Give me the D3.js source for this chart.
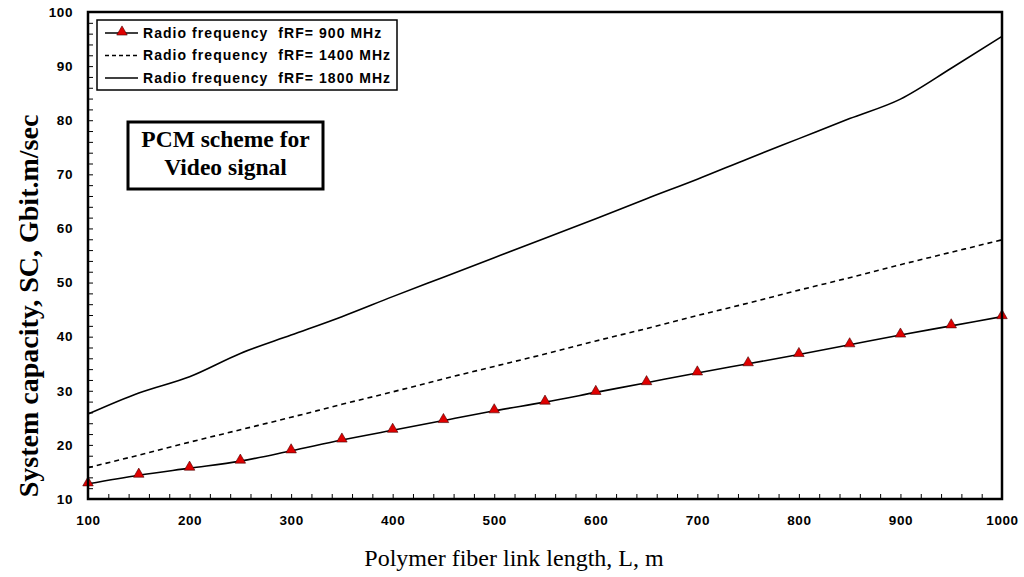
<!DOCTYPE html>
<html>
<head>
<meta charset="utf-8">
<script src="https://cdn.jsdelivr.net/npm/d3@7"></script>
<style>
  body { margin: 0; background: #fff; }
  svg { display: block; }
</style>
</head>
<body>
<div id="chart"></div>
<script>
// link length, m
const lengths = [100, 150, 200, 250, 300, 350, 400, 450, 500, 550, 600, 650, 700, 750, 800, 850, 900, 950, 1000];
// system capacity, Gbit.m/sec
const sc900 = [12.8, 14.4, 15.7, 17.0, 18.9, 20.9, 22.7, 24.5, 26.3, 27.9, 29.7, 31.5, 33.3, 35.0, 36.7, 38.5, 40.3, 42.0, 43.7];
const sc1400 = [15.8, 18.1, 20.5, 22.8, 25.1, 27.5, 29.8, 32.2, 34.5, 36.8, 39.2, 41.5, 43.9, 46.2, 48.6, 50.9, 53.3, 55.6, 57.9];
const sc1800 = [25.7, 29.6, 32.6, 36.9, 40.3, 43.7, 47.4, 51.0, 54.6, 58.2, 61.8, 65.5, 69.1, 72.9, 76.6, 80.3, 83.9, 89.6, 95.5];
const legendLabels = ['Radio frequency  fRF= 900 MHz', 'Radio frequency  fRF= 1400 MHz', 'Radio frequency  fRF= 1800 MHz'];
const xTicks = [100, 200, 300, 400, 500, 600, 700, 800, 900, 1000];
const yTicks = [10, 20, 30, 40, 50, 60, 70, 80, 90, 100];

const width = 1024, height = 577;
const margin = {top: 12, right: 22, bottom: 78, left: 88};
const sans = "'Liberation Sans', Arial, sans-serif";
const serif = "'Liberation Serif', 'Times New Roman', serif";

const x = d3.scaleLinear().domain([100, 1000]).range([margin.left, width - margin.right]);
const y = d3.scaleLinear().domain([10, 100]).range([height - margin.bottom, margin.top]);

const svg = d3.select('#chart').append('svg')
    .attr('width', width).attr('height', height);

// minor ticks pointing inward
svg.append('g')
    .attr('transform', `translate(0,${y(10)})`)
    .call(d3.axisTop(x).tickValues(d3.range(100, 1001, 20)).tickSize(5).tickFormat(''))
    .call(g => g.select('.domain').remove())
    .call(g => g.selectAll('line').attr('stroke', '#000').attr('stroke-width', 1));
svg.append('g')
    .attr('transform', `translate(${x(100)},0)`)
    .call(d3.axisRight(y).tickValues(d3.range(10, 101, 2)).tickSize(5).tickFormat(''))
    .call(g => g.select('.domain').remove())
    .call(g => g.selectAll('line').attr('stroke', '#000').attr('stroke-width', 1));

// tick labels
const styleTicks = g => g.selectAll('text')
    .attr('font-family', sans).attr('font-weight', 'bold')
    .attr('font-size', 13.5).attr('letter-spacing', 0.6).attr('fill', '#000');
svg.append('g')
    .attr('transform', `translate(0,${y(10)})`)
    .call(d3.axisBottom(x).tickValues(xTicks).tickFormat(d3.format('d')).tickSize(0).tickPadding(16))
    .call(g => g.select('.domain').remove())
    .call(styleTicks);
svg.append('g')
    .attr('transform', `translate(${x(100)},0)`)
    .call(d3.axisLeft(y).tickValues(yTicks).tickSize(0).tickPadding(15))
    .call(g => g.select('.domain').remove())
    .call(styleTicks);

const line = arr => d3.line()
    .x((d, i) => x(lengths[i]))
    .y(d => y(d))
    .curve(d3.curveMonotoneX)(arr);

svg.append('path').attr('d', line(sc1800))
    .attr('fill', 'none').attr('stroke', '#000').attr('stroke-width', 1.6);
svg.append('path').attr('d', line(sc1400))
    .attr('fill', 'none').attr('stroke', '#000').attr('stroke-width', 1.6)
    .attr('stroke-dasharray', '5,4');
svg.append('path').attr('d', line(sc900))
    .attr('fill', 'none').attr('stroke', '#000').attr('stroke-width', 1.6);

const tri = d3.symbol().type(d3.symbolTriangle).size(48);
svg.append('g').selectAll('path')
    .data(sc900)
    .join('path')
    .attr('d', tri)
    .attr('transform', (d, i) => `translate(${x(lengths[i])},${y(d) - 1})`)
    .attr('fill', '#e00000').attr('stroke', '#400').attr('stroke-width', 0.6);

// frame
svg.append('rect')
    .attr('x', x(100)).attr('y', y(100))
    .attr('width', x(1000) - x(100)).attr('height', y(10) - y(100))
    .attr('fill', 'none').attr('stroke', '#000').attr('stroke-width', 2.5);

// legend
const lg = svg.append('g').attr('transform', 'translate(97,20)');
lg.append('rect').attr('width', 300).attr('height', 70)
    .attr('fill', '#fff').attr('stroke', '#000').attr('stroke-width', 1.5);
const styles = [{dash: null, marker: true}, {dash: '4,3', marker: false}, {dash: null, marker: false}];
legendLabels.forEach((t, i) => {
    const cy = 13 + i * 22.5;
    lg.append('line').attr('x1', 8).attr('x2', 41).attr('y1', cy).attr('y2', cy)
        .attr('stroke', '#000').attr('stroke-width', 1.5)
        .attr('stroke-dasharray', styles[i].dash);
    if (styles[i].marker) {
        lg.append('path').attr('d', tri).attr('transform', `translate(25,${cy - 1})`)
            .attr('fill', '#e00000').attr('stroke', '#400').attr('stroke-width', 0.6);
    }
    lg.append('text').attr('x', 46).attr('y', cy).attr('dy', '0.35em')
        .attr('font-family', sans).attr('font-weight', 'bold').attr('font-size', 14)
        .attr('letter-spacing', 1.05)
        .attr('xml:space', 'preserve')
        .text(t);
});

// annotation box
const ab = svg.append('g').attr('transform', 'translate(128,122)');
ab.append('rect').attr('width', 195).attr('height', 67)
    .attr('fill', '#fff').attr('stroke', '#000').attr('stroke-width', 3);
ab.selectAll('text').data(['PCM scheme for', 'Video signal']).join('text')
    .attr('x', 97.5).attr('y', (d, i) => 25 + i * 28)
    .attr('text-anchor', 'middle')
    .attr('font-family', serif).attr('font-weight', 'bold').attr('font-size', 23.5)
    .text(d => d);

// axis titles
svg.append('text')
    .attr('x', 514).attr('y', 566)
    .attr('text-anchor', 'middle')
    .attr('font-family', serif).attr('font-size', 24)
    .text('Polymer fiber link length, L, m');
svg.append('text')
    .attr('transform', `translate(38,${306}) rotate(-90)`)
    .attr('text-anchor', 'middle')
    .attr('font-family', serif).attr('font-weight', 'bold').attr('font-size', 28)
    .text('System capacity, SC, Gbit.m/sec');
</script>
</body>
</html>
